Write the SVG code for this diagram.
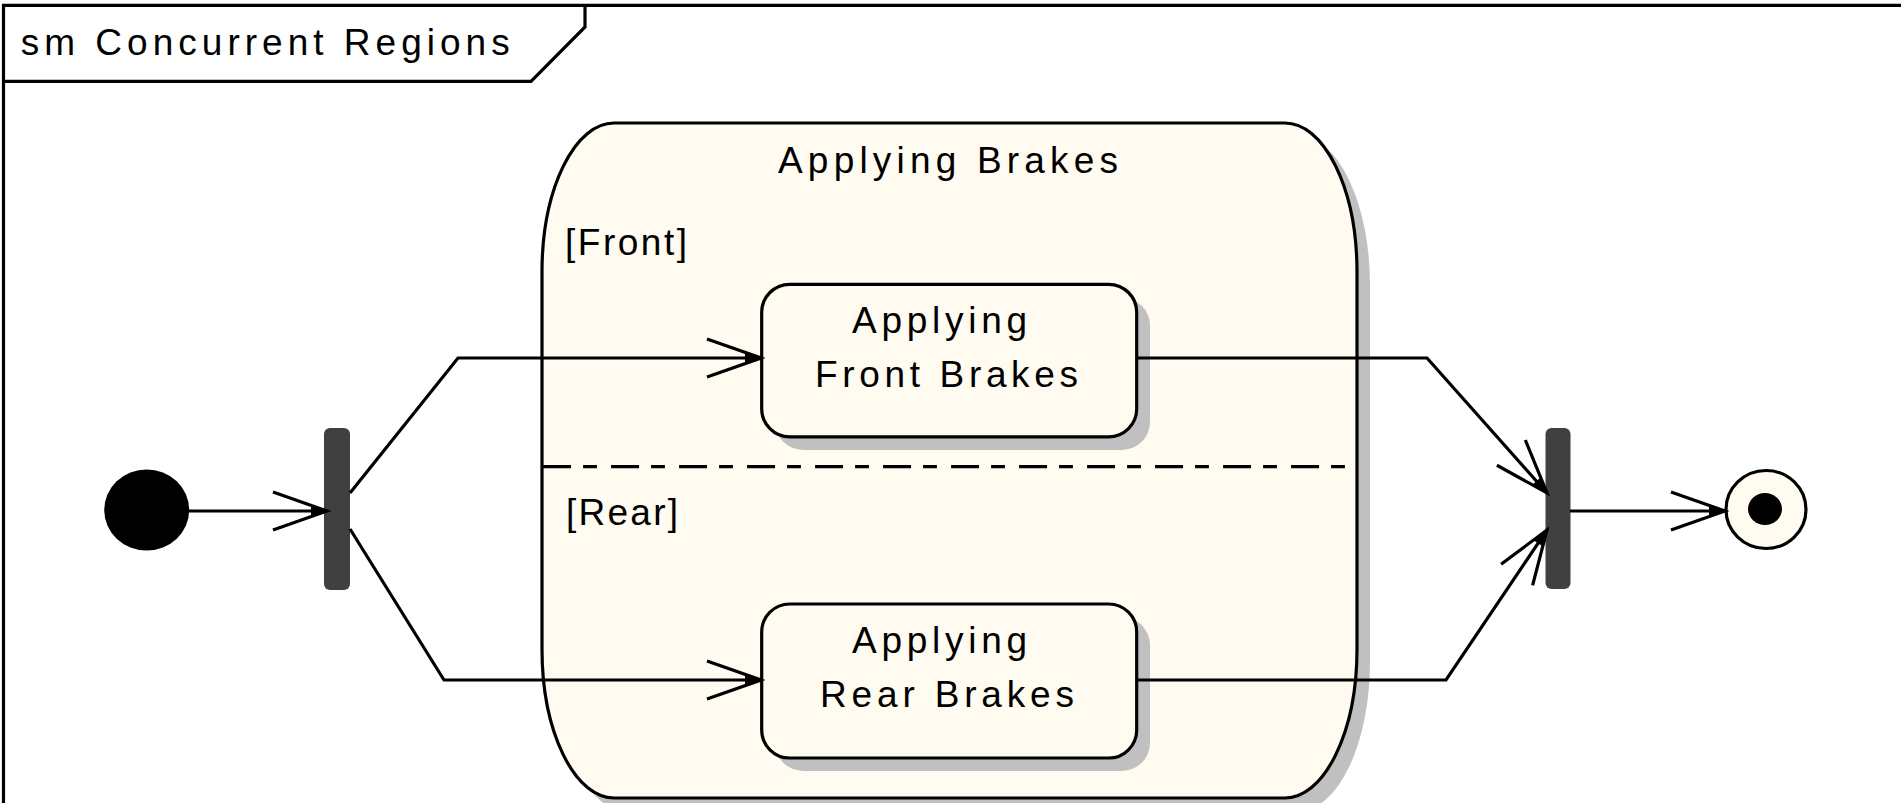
<svg xmlns="http://www.w3.org/2000/svg" width="1901" height="803" viewBox="0 0 1901 803">
<style>
.ln{fill:none;stroke:#000;stroke-width:3.2}
.st{fill:#FFFBF0;stroke:#000;stroke-width:3.2}
.sh{fill:#C0C0C0}
.bar{fill:#404040}
.tx{font-family:"Liberation Sans",Arial,sans-serif;font-size:37px;fill:#000}
</style>
<defs>
<marker id="open" markerUnits="userSpaceOnUse" viewBox="-58 -24 62 48" markerWidth="62" markerHeight="48" refX="0" refY="0" orient="auto">
<path d="M-54,-19 L0,0 L-54,19" fill="none" stroke="#000" stroke-width="3.2"/>
<path d="M-16,-5.5 L0,0 L-16,5.5 Z" fill="#000"/>
</marker>
</defs>
<rect width="1901" height="803" fill="#fff"/>
<g id="frame">
<path class="ln" d="M3.5,803 V5.3 H1901" stroke-width="3.8"/>
<path class="ln" d="M3.5,81.3 H531 L585,27 V5.3" stroke-width="3.6"/>
<text class="tx" x="20.7" y="55" textLength="489" lengthAdjust="spacing">sm Concurrent Regions</text>
</g>
<g id="applying-brakes">
<rect class="sh" x="555" y="136" width="815" height="675" rx="72" ry="149"/>
<rect class="st" x="542" y="123" width="815" height="675" rx="72" ry="149"/>
<text class="tx" x="778" y="173" textLength="340" lengthAdjust="spacing">Applying Brakes</text>
<line class="ln" x1="543" y1="466.7" x2="1356" y2="466.7" stroke-dasharray="28 12 14 14"/>
<text class="tx" x="565" y="255" textLength="122" lengthAdjust="spacing">[Front]</text>
<text class="tx" x="566" y="525" textLength="112" lengthAdjust="spacing">[Rear]</text>
</g>
<g id="applying-front-brakes">
<rect class="sh" x="775" y="297.5" width="375" height="152.5" rx="28" ry="28"/>
<rect class="st" x="761.7" y="284.3" width="375" height="152.5" rx="28" ry="28"/>
<text class="tx" x="852" y="333" textLength="175" lengthAdjust="spacing">Applying</text>
<text class="tx" x="815" y="387" textLength="263" lengthAdjust="spacing">Front Brakes</text>
</g>
<g id="applying-rear-brakes">
<rect class="sh" x="775" y="617" width="375" height="154" rx="28" ry="28"/>
<rect class="st" x="761.7" y="604" width="375" height="154" rx="28" ry="28"/>
<text class="tx" x="852" y="653" textLength="175" lengthAdjust="spacing">Applying</text>
<text class="tx" x="820" y="707" textLength="254" lengthAdjust="spacing">Rear Brakes</text>
</g>
<g id="initial">
<ellipse cx="146.7" cy="510" rx="42.5" ry="40.5" fill="#000"/>
</g>
<g id="fork">
<rect class="bar" x="324" y="428" width="26" height="162" rx="6" ry="6"/>
</g>
<g id="join">
<rect class="bar" x="1545.5" y="428" width="25" height="161" rx="6" ry="6"/>
</g>
<g id="final">
<ellipse cx="1766" cy="509.5" rx="40" ry="39" fill="#FFFBF0" stroke="#000" stroke-width="3.2"/>
<ellipse cx="1765" cy="509" rx="17" ry="16" fill="#000"/>
</g>
<g id="connectors">
<path class="ln" d="M189,511 H327" marker-end="url(#open)"/>
<path class="ln" d="M350,493 L458,358 H761" marker-end="url(#open)"/>
<path class="ln" d="M350,529 L444,680 H761" marker-end="url(#open)"/>
<path class="ln" d="M1137,358 H1427 L1547,493" marker-end="url(#open)"/>
<path class="ln" d="M1137,680 H1446 L1547,530" marker-end="url(#open)"/>
<path class="ln" d="M1570,511 H1725" marker-end="url(#open)"/>
</g>
</svg>
